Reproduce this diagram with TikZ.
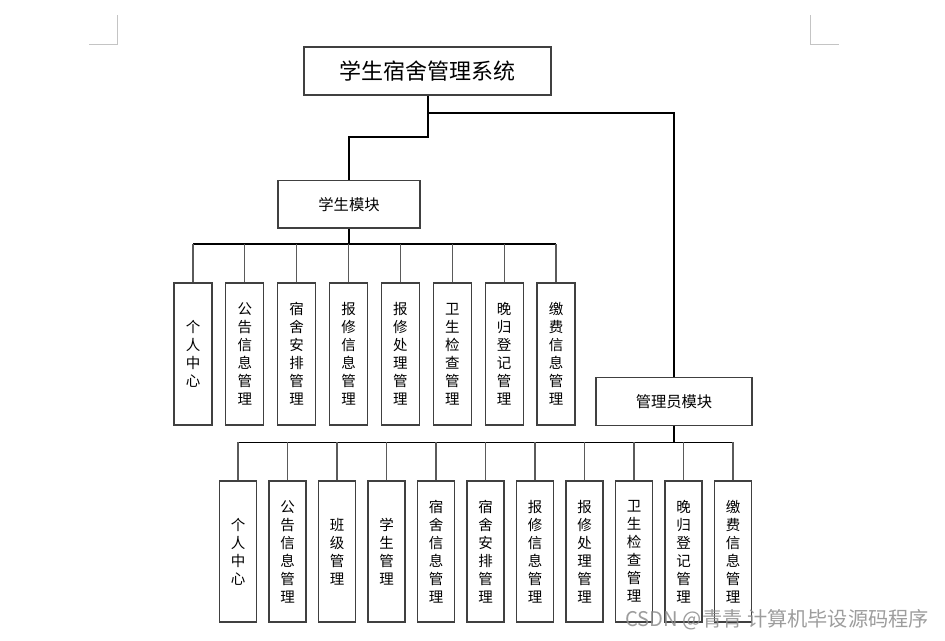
\documentclass[tikz,border=0pt]{standalone}
\usepackage{fontspec}
\newfontfamily\cjk{Noto Sans CJK SC}
\definecolor{boxgray}{HTML}{404040}
\definecolor{linegray}{HTML}{5A5A5A}
\definecolor{markgray}{HTML}{C4C4C4}
\begin{document}
\begin{tikzpicture}[x=1pt,y=-1pt,
  box/.style={draw=boxgray, line width=1.1pt, fill=white, inner sep=0pt, align=center},
  rootbox/.style={box, minimum width=247pt, minimum height=48pt, font=\fontsize{22}{26}\selectfont\cjk},
  modbox/.style={box, minimum height=47.5pt, font=\fontsize{15.3}{18}\selectfont\cjk},
  leafS/.style={box, minimum width=38pt, minimum height=142pt, font=\fontsize{14.5}{18}\selectfont\cjk},
  leafA/.style={box, minimum width=37pt, minimum height=141pt, font=\fontsize{14.5}{18}\selectfont\cjk},
  mainline/.style={draw=black, line width=2pt},
  busline/.style={draw=black, line width=1.4pt},
  leafline/.style={draw=linegray, line width=1.1pt},
  cornermark/.style={draw=markgray, line width=1pt}
]
\useasboundingbox (0,0) rectangle (945,640);

% page corner marks
\coordinate (cl1) at (117.7,15);
\coordinate (cl2) at (117.7,44);
\coordinate (cl3) at (89,44);
\draw[cornermark] (cl1) -- (cl2) -- (cl3);
\coordinate (cr1) at (810.3,15);
\coordinate (cr2) at (810.3,44);
\coordinate (cr3) at (839,44);
\draw[cornermark] (cr1) -- (cr2) -- (cr3);

% main boxes
\node[rootbox] (root) at (427.5,71) {学生宿舍管理系统};
\node[modbox, minimum width=142pt] (stu) at (349,204.2) {学生模块};
\node[modbox, minimum width=156pt] (adm) at (674,401.5) {管理员模块};

% student leaves
\node[leafS] (s1) at (193.0,354) {个\\人\\中\\心};
\node[leafS] (s2) at (244.9,354) {公\\告\\信\\息\\管\\理};
\node[leafS] (s3) at (296.7,354) {宿\\舍\\安\\排\\管\\理};
\node[leafS] (s4) at (348.6,354) {报\\修\\信\\息\\管\\理};
\node[leafS] (s5) at (400.4,354) {报\\修\\处\\理\\管\\理};
\node[leafS] (s6) at (452.3,354) {卫\\生\\检\\查\\管\\理};
\node[leafS] (s7) at (504.2,354) {晚\\归\\登\\记\\管\\理};
\node[leafS] (s8) at (556.0,354) {缴\\费\\信\\息\\管\\理};

% admin leaves
\node[leafA] (a1) at (238.0,551.5) {个\\人\\中\\心};
\node[leafA] (a2) at (287.5,551.5) {公\\告\\信\\息\\管\\理};
\node[leafA] (a3) at (337.0,551.5) {班\\级\\管\\理};
\node[leafA] (a4) at (386.5,551.5) {学\\生\\管\\理};
\node[leafA] (a5) at (436.0,551.5) {宿\\舍\\信\\息\\管\\理};
\node[leafA] (a6) at (485.5,551.5) {宿\\舍\\安\\排\\管\\理};
\node[leafA] (a7) at (535.0,551.5) {报\\修\\信\\息\\管\\理};
\node[leafA] (a8) at (584.5,551.5) {报\\修\\处\\理\\管\\理};
\node[leafA] (a9) at (634.0,551.5) {卫\\生\\检\\查\\管\\理};
\node[leafA] (a10) at (683.5,551.5) {晚\\归\\登\\记\\管\\理};
\node[leafA] (a11) at (733.0,551.5) {缴\\费\\信\\息\\管\\理};

% root connectors
\coordinate (jS) at (427.5,136.7);
\coordinate (jA) at (427.5,112.7);
\draw[mainline] (root.south) -- (jS) -| (stu.north);
\draw[mainline] (jA) -| (adm.north);

% student bus
\coordinate (busS) at (349,244);
\draw[mainline] (stu.south) -- (busS);
\draw[busline] (s1.north |- busS) -- (s8.north |- busS);
\foreach \i in {1,...,8} {
  \draw[leafline] (s\i.north) -- (s\i.north |- busS);
}

% admin bus
\coordinate (busA) at (674,442.3);
\draw[mainline] (adm.south) -- (busA);
\draw[busline] (a1.north |- busA) -- (a11.north |- busA);
\foreach \i in {1,...,11} {
  \draw[leafline] (a\i.north) -- (a\i.north |- busA);
}

% watermark
\node[anchor=east, inner sep=0pt, text=black!45, opacity=0.85,
      font=\fontsize{20.2}{24}\selectfont\cjk] (wm) at (929,620) {CSDN @青青 计算机毕设源码程序};
\end{tikzpicture}
\end{document}
